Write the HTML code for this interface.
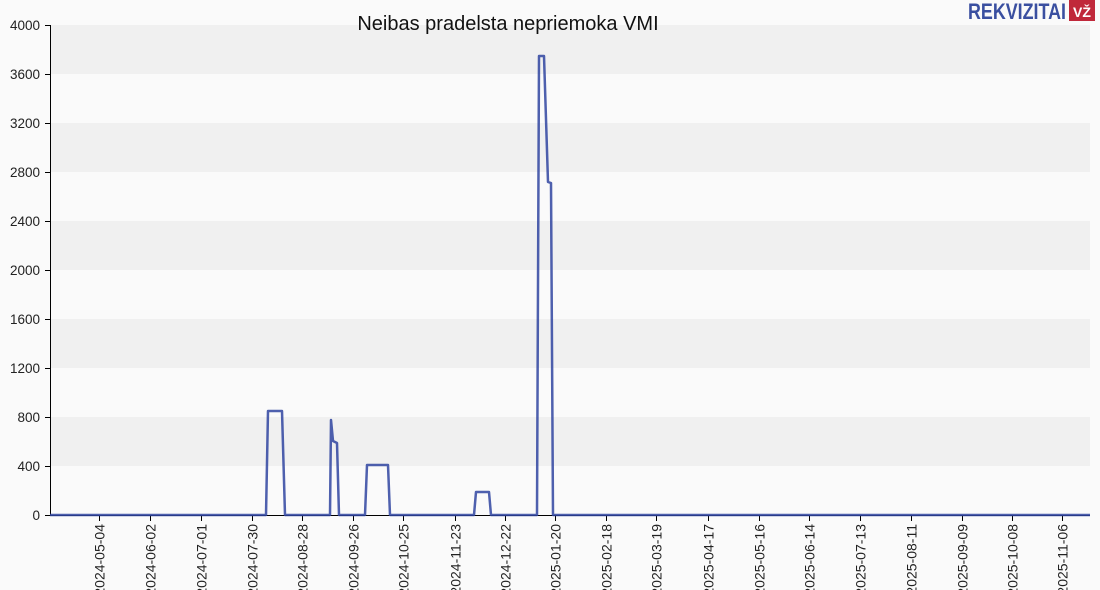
<!DOCTYPE html>
<html><head><meta charset="utf-8"><style>
body{margin:0;background:#fafafa;}
svg{display:block;font-family:"Liberation Sans",sans-serif;}
</style></head><body>
<svg width="1100" height="590" viewBox="0 0 1100 590">
<rect width="1100" height="590" fill="#fafafa"/>
<g fill="#f0f0f0">
<rect x="50" y="25" width="1040" height="49"/>
<rect x="50" y="123" width="1040" height="49"/>
<rect x="50" y="221" width="1040" height="49"/>
<rect x="50" y="319" width="1040" height="49"/>
<rect x="50" y="417" width="1040" height="49"/>
</g>
<g stroke="#000" stroke-width="1">
<line x1="50.5" y1="25" x2="50.5" y2="516"/>
<line x1="50" y1="515.5" x2="1090" y2="515.5"/>
<line x1="45" y1="25.5" x2="50" y2="25.5"/><line x1="45" y1="74.5" x2="50" y2="74.5"/>
<line x1="45" y1="123.5" x2="50" y2="123.5"/><line x1="45" y1="172.5" x2="50" y2="172.5"/>
<line x1="45" y1="221.5" x2="50" y2="221.5"/><line x1="45" y1="270.5" x2="50" y2="270.5"/>
<line x1="45" y1="319.5" x2="50" y2="319.5"/><line x1="45" y1="368.5" x2="50" y2="368.5"/>
<line x1="45" y1="417.5" x2="50" y2="417.5"/><line x1="45" y1="466.5" x2="50" y2="466.5"/>
<line x1="45" y1="515.5" x2="50" y2="515.5"/>
</g>
<g font-size="13.5" fill="#222" text-anchor="end">
<text x="40" y="30">4000</text><text x="40" y="79">3600</text><text x="40" y="128">3200</text>
<text x="40" y="177">2800</text><text x="40" y="226">2400</text><text x="40" y="275">2000</text>
<text x="40" y="324">1600</text><text x="40" y="373">1200</text><text x="40" y="422">800</text>
<text x="40" y="471">400</text><text x="40" y="520">0</text>
</g>
<g stroke="#000">
<line x1="99.5" y1="515" x2="99.5" y2="521"/><line x1="150.5" y1="515" x2="150.5" y2="521"/>
<line x1="201.5" y1="515" x2="201.5" y2="521"/><line x1="252.5" y1="515" x2="252.5" y2="521"/>
<line x1="302.5" y1="515" x2="302.5" y2="521"/><line x1="353.5" y1="515" x2="353.5" y2="521"/>
<line x1="403.5" y1="515" x2="403.5" y2="521"/><line x1="455.5" y1="515" x2="455.5" y2="521"/>
<line x1="505.5" y1="515" x2="505.5" y2="521"/><line x1="555.5" y1="515" x2="555.5" y2="521"/>
<line x1="606.5" y1="515" x2="606.5" y2="521"/><line x1="656.5" y1="515" x2="656.5" y2="521"/>
<line x1="708.5" y1="515" x2="708.5" y2="521"/><line x1="759.5" y1="515" x2="759.5" y2="521"/>
<line x1="809.5" y1="515" x2="809.5" y2="521"/><line x1="860.5" y1="515" x2="860.5" y2="521"/>
<line x1="911.5" y1="515" x2="911.5" y2="521"/><line x1="962.5" y1="515" x2="962.5" y2="521"/>
<line x1="1012.5" y1="515" x2="1012.5" y2="521"/><line x1="1062.5" y1="515" x2="1062.5" y2="521"/>
</g>
<g font-size="14" fill="#222" text-anchor="end">
<text transform="translate(104.5,524) rotate(-90)">2024-05-04</text>
<text transform="translate(155.5,524) rotate(-90)">2024-06-02</text>
<text transform="translate(206.5,524) rotate(-90)">2024-07-01</text>
<text transform="translate(257.5,524) rotate(-90)">2024-07-30</text>
<text transform="translate(307.5,524) rotate(-90)">2024-08-28</text>
<text transform="translate(358.5,524) rotate(-90)">2024-09-26</text>
<text transform="translate(408.5,524) rotate(-90)">2024-10-25</text>
<text transform="translate(460.5,524) rotate(-90)">2024-11-23</text>
<text transform="translate(510.5,524) rotate(-90)">2024-12-22</text>
<text transform="translate(560.5,524) rotate(-90)">2025-01-20</text>
<text transform="translate(611.5,524) rotate(-90)">2025-02-18</text>
<text transform="translate(661.5,524) rotate(-90)">2025-03-19</text>
<text transform="translate(713.5,524) rotate(-90)">2025-04-17</text>
<text transform="translate(764.5,524) rotate(-90)">2025-05-16</text>
<text transform="translate(814.5,524) rotate(-90)">2025-06-14</text>
<text transform="translate(865.5,524) rotate(-90)">2025-07-13</text>
<text transform="translate(916.5,524) rotate(-90)">2025-08-11</text>
<text transform="translate(967.5,524) rotate(-90)">2025-09-09</text>
<text transform="translate(1017.5,524) rotate(-90)">2025-10-08</text>
<text transform="translate(1067.5,524) rotate(-90)">2025-11-06</text>
</g>
<polyline fill="none" stroke="#2f44a0" stroke-width="2.5" stroke-linejoin="round" stroke-opacity="0.85"
points="50,515 266,515 268,411 282,411 285,515 330,515 331,420 333,441 337,443 339,515 365,515 367,465 388,465 390,515 474,515 476,492 489,492 491,515 537,515 539,56 544,56 548,182 551,183 553,515 1090,515"/>
<text x="508" y="30" font-size="20" text-anchor="middle" fill="#111">Neibas pradelsta nepriemoka VMI</text>
<text x="1066" y="19" font-size="22" font-weight="bold" fill="#3a4fa0" text-anchor="end" textLength="98" lengthAdjust="spacingAndGlyphs">REKVIZITAI</text>
<rect x="1069" y="0" width="26" height="21" fill="#c0283a"/>
<text x="1082" y="17" font-size="14" font-weight="bold" fill="#fff" text-anchor="middle">VŽ</text>
</svg>
</body></html>
